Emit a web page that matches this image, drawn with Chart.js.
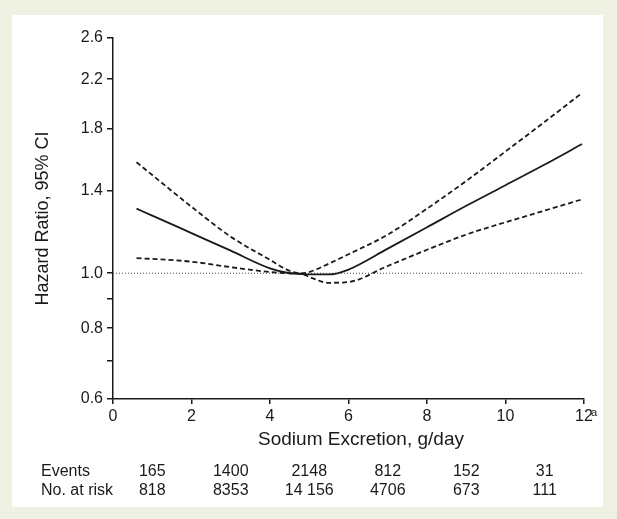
<!DOCTYPE html>
<html>
<head>
<meta charset="utf-8">
<script src="https://cdn.jsdelivr.net/npm/chart.js@4.4.1/dist/chart.umd.min.js"></script>
<style>
  html, body { margin: 0; padding: 0; }
  body { width: 617px; height: 519px; background: #eff1e2; position: relative; overflow: hidden; }
  #panel { position: absolute; left: 12px; top: 15px; width: 591px; height: 492px; background: #fff; }
  #chart { position: absolute; left: 0; top: 0; }
</style>
</head>
<body>
<div id="panel"></div>
<canvas id="chart" width="617" height="519"></canvas>
<script>
// Values (hazard ratio vs sodium excretion)
const sodium = [0.6, 1, 2, 3, 4, 4.5, 4.8, 5, 5.5, 6, 7, 8, 9, 10, 11, 11.95];
const hazardRatio = [1.30, 1.264, 1.177, 1.096, 1.02, 1.0, 0.997, 0.995, 0.995, 1.015, 1.105, 1.205, 1.315, 1.43, 1.555, 1.69];
const upperCI = [1.57, 1.49, 1.31, 1.16, 1.056, 1.01, 1.0, 1.005, 1.04, 1.08, 1.17, 1.30, 1.455, 1.64, 1.85, 2.08];
const lowerCI = [1.063, 1.06, 1.048, 1.025, 1.005, 1.0, 0.998, 0.985, 0.962, 0.965, 1.03, 1.10, 1.17, 1.23, 1.29, 1.35];

// Reference line at HR = 1
const refX = [0, 12];
const refY = [1, 1];

const yTicks = [0.6, 0.7, 0.8, 0.9, 1.0, 1.4, 1.8, 2.2, 2.6];
const yMinorTicks = [0.7, 0.9];

// Table under the axis
const tableCols = [1, 3, 5, 7, 9, 11];
const events = ['165', '1400', '2148', '812', '152', '31'];
const atRisk = ['818', '8353', '14 156', '4706', '673', '111'];

const FONT = '"Liberation Sans", Arial, Helvetica, sans-serif';
const INK = '#1a1a1a';

const toPoints = (xs, ys) => xs.map((x, i) => ({ x: x, y: ys[i] }));

const lineStyle = {
    pointRadius: 0,
    borderColor: INK,
    fill: false,
    cubicInterpolationMode: 'monotone'
};

// Draws x title, the superscript on 12 and the events / at-risk table
const extrasPlugin = {
    id: 'extras',
    afterDraw(chart) {
        const ctx = chart.ctx;
        const xs = chart.scales.x;
        ctx.save();
        ctx.fillStyle = INK;

        ctx.font = '19px ' + FONT;
        ctx.textAlign = 'center';
        ctx.textBaseline = 'middle';
        ctx.fillText('Sodium Excretion, g/day', 361, 440);

        ctx.font = '11px ' + FONT;
        ctx.textAlign = 'left';
        ctx.fillText('a', xs.getPixelForValue(12) + 7, 413);

        ctx.font = '16px ' + FONT;
        ctx.textAlign = 'left';
        ctx.fillText('Events', 41, 472);
        ctx.fillText('No. at risk', 41, 491);
        ctx.textAlign = 'center';
        tableCols.forEach((c, i) => {
            const px = xs.getPixelForValue(c);
            ctx.fillText(events[i], px, 472);
            ctx.fillText(atRisk[i], px, 491);
        });
        ctx.restore();
    }
};

const ctx = document.getElementById('chart').getContext('2d');
new Chart(ctx, {
    type: 'line',
    data: {
        datasets: [
            { ...lineStyle, data: toPoints(sodium, hazardRatio), borderWidth: 1.8 },
            { ...lineStyle, data: toPoints(sodium, upperCI), borderWidth: 1.8, borderDash: [5, 3] },
            { ...lineStyle, data: toPoints(sodium, lowerCI), borderWidth: 1.8, borderDash: [5, 3] },
            { ...lineStyle, data: toPoints(refX, refY), borderWidth: 1, borderColor: '#444', borderDash: [1, 2] }
        ]
    },
    plugins: [extrasPlugin],
    options: {
        responsive: false,
        animation: false,
        layout: { padding: { left: 0, top: 38, right: 33, bottom: 67 } },
        plugins: { legend: { display: false }, tooltip: { enabled: false } },
        scales: {
            x: {
                type: 'linear',
                min: 0,
                max: 12,
                afterFit: (scale) => { scale.height = 53; },
                ticks: {
                    stepSize: 2,
                    autoSkip: false,
                    maxRotation: 0,
                    padding: 3,
                    color: INK,
                    font: { family: FONT, size: 16 }
                },
                grid: { drawOnChartArea: false, drawTicks: true, tickLength: 5, color: INK, lineWidth: 1.5 },
                border: { display: true, color: INK, width: 1.5 }
            },
            y: {
                type: 'logarithmic',
                min: 0.6,
                max: 2.6,
                afterFit: (scale) => { scale.width = 113; },
                afterBuildTicks: (scale) => { scale.ticks = yTicks.map(v => ({ value: v })); },
                ticks: {
                    autoSkip: false,
                    padding: 4,
                    color: INK,
                    font: { family: FONT, size: 16 },
                    callback: (value) => yMinorTicks.includes(value) ? '' : Number(value).toFixed(1)
                },
                grid: { drawOnChartArea: false, drawTicks: true, tickLength: 6, color: INK, lineWidth: 1.5 },
                border: { display: true, color: INK, width: 1.5 },
                title: {
                    display: true,
                    text: 'Hazard Ratio, 95% CI',
                    color: INK,
                    font: { family: FONT, size: 18 },
                    padding: { top: 32, bottom: 0 }
                }
            }
        }
    }
});
</script>
</body>
</html>
